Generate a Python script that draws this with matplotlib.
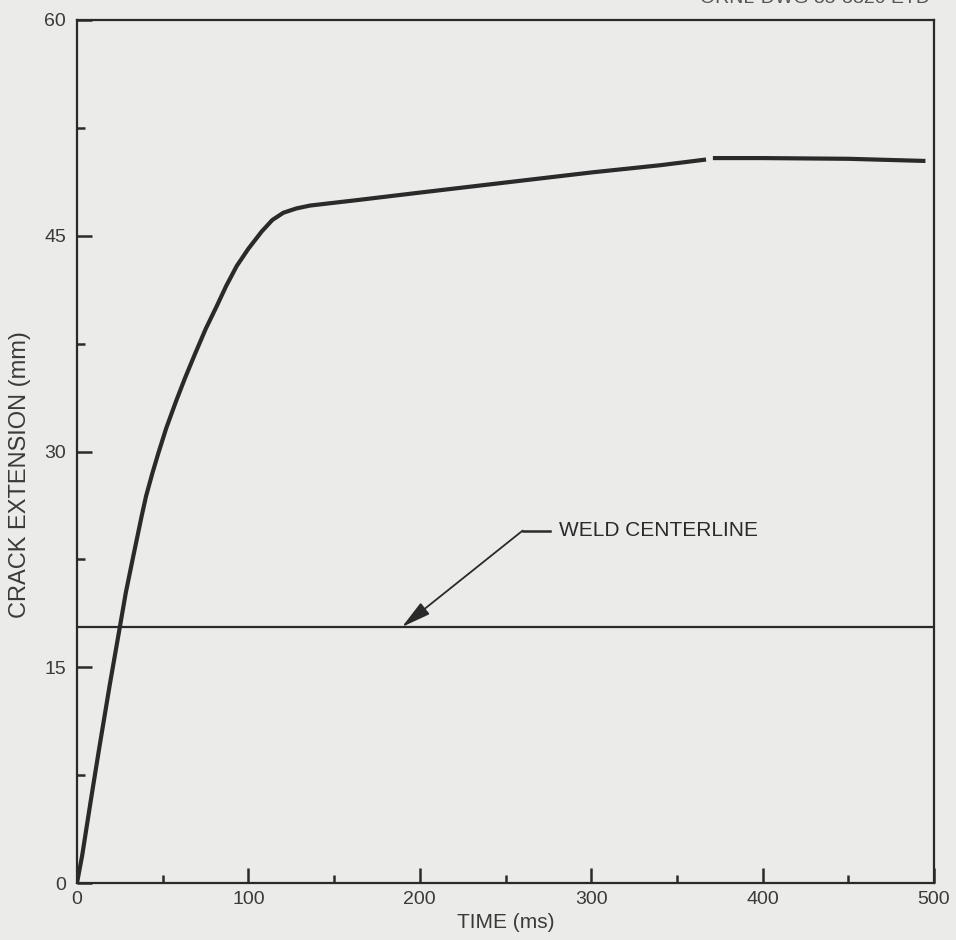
import matplotlib.pyplot as plt

# crack extension vs. time, read as two pieces (the trace is broken near 367 ms)
time_a = [0, 3, 8, 13, 19, 25, 28.5, 32.8, 37.7, 40.3, 44, 47.5, 52, 57.8, 63, 68.9, 75, 81.5,
          87, 93.2, 100, 107.8, 114, 120.4, 128, 136, 165, 200, 250, 300, 340, 367]
ext_a = [0, 1.9, 5.7, 9.4, 13.7, 17.8, 20.2, 22.7, 25.5, 26.9, 28.5, 29.9, 31.6, 33.5, 35.1, 36.8,
         38.5, 40.1, 41.5, 42.9, 44.1, 45.3, 46.1, 46.6, 46.9, 47.1, 47.5, 48.0, 48.7, 49.4, 49.9, 50.3]
time_b = [371, 400, 450, 495]
ext_b = [50.4, 50.4, 50.35, 50.2]

weld_y = 17.8
weld_tip_x = 189.6
weld_elbow = (260, 24.5)
weld_text_x = 281

xticks = [0, 100, 200, 300, 400, 500]
yticks = [0, 15, 30, 45, 60]

BG = '#ebebea'
INK = '#2a2a2a'

plt.rcParams['font.family'] = ['Liberation Sans', 'DejaVu Sans']

fig = plt.figure(figsize=(9.56, 9.40), dpi=100, facecolor=BG)
ax = fig.add_axes([77 / 956, 57 / 940, 857 / 956, 863 / 940], facecolor=BG)

ax.plot(time_a, ext_a, color=INK, lw=3.0, solid_capstyle='butt', solid_joinstyle='round')
ax.plot(time_b, ext_b, color=INK, lw=3.0, solid_capstyle='butt')

# weld centerline
ax.plot([0, 500], [weld_y, weld_y], color=INK, lw=1.6)

ax.annotate('', xy=(weld_tip_x, weld_y), xytext=weld_elbow,
            arrowprops=dict(arrowstyle='-|>,head_length=0.9,head_width=0.22',
                            mutation_scale=20, color=INK, lw=1.3,
                            shrinkA=0, shrinkB=0))
ax.plot([weld_elbow[0], weld_text_x - 5], [weld_elbow[1], weld_elbow[1]], color=INK, lw=1.8)
ax.text(weld_text_x, weld_elbow[1], 'WELD CENTERLINE', fontsize=15, color=INK,
        va='center', ha='left')

ax.set_xlim(0, 500)
ax.set_ylim(0, 60)
ax.set_xticks(xticks)
ax.set_yticks(yticks)
ax.set_xticks([50, 150, 250, 350, 450], minor=True)
ax.set_yticks([7.5, 22.5, 37.5, 52.5], minor=True)
ax.tick_params(which='major', direction='in', length=11, width=1.8, color=INK,
               labelsize=14, labelcolor='#3a3a3a')
ax.tick_params(which='minor', direction='in', length=6, width=1.8, color=INK)
ax.tick_params(axis='y', which='major', pad=8)
ax.tick_params(axis='x', which='major', pad=6)

for s in ax.spines.values():
    s.set_color(INK)
    s.set_linewidth(1.6)

ax.set_xlabel('TIME (ms)', fontsize=15, color='#3a3a3a')
ax.xaxis.set_label_coords(0.5, (883 - 922) / 863)
ax.xaxis.label.set_va('center')
ax.set_ylabel('CRACK EXTENSION (mm)', fontsize=17, color='#3a3a3a')
ax.yaxis.set_label_coords((20 - 77) / 857, (883 - 475) / 863)
ax.yaxis.label.set_va('center')

fig.text(930 / 956, 937 / 940, 'ORNL-DWG 85-5320 ETD', fontsize=14, color='#555555',
         ha='right', va='baseline')

fig.savefig('out.png', dpi=100, facecolor=BG)
